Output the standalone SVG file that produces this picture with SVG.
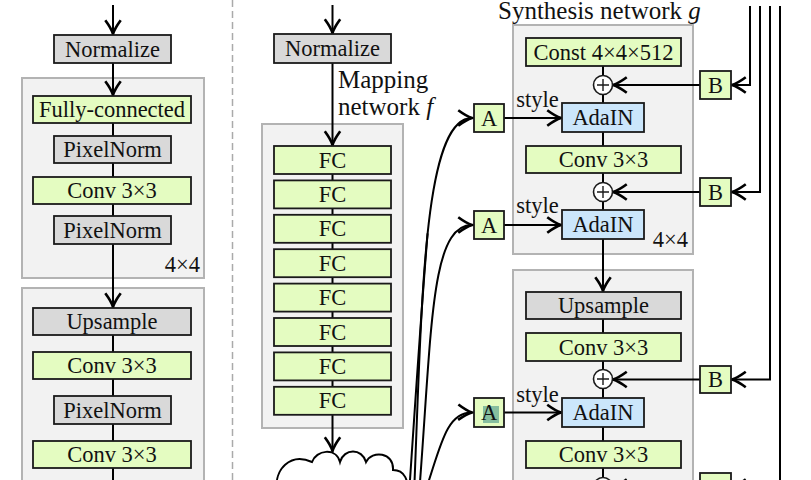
<svg xmlns="http://www.w3.org/2000/svg" width="811" height="480" viewBox="0 0 811 480">
<style>
text{font-family:"Liberation Serif","Times New Roman",serif;fill:#111;}
.t{font-size:22.5px;text-anchor:middle;}
.lbl{font-size:25px;}
.g{fill:#e4fcc1;stroke:#1a1a1a;stroke-width:1.8;}
.gr{fill:#d9d9d9;stroke:#1a1a1a;stroke-width:1.8;}
.bl{fill:#cbe6fb;stroke:#1a1a1a;stroke-width:1.8;}
.box{fill:#f2f2f2;stroke:#b3b3b3;stroke-width:2;}
.ln{fill:none;stroke:#000;stroke-width:2;}
.ar{fill:none;stroke:#000;stroke-width:2;marker-end:url(#ah);}
.pc{fill:#fff;stroke:#1a1a1a;stroke-width:1.6;}
.pl{stroke:#1a1a1a;stroke-width:1.4;}
</style>
<defs>
<marker id="ah" markerUnits="userSpaceOnUse" markerWidth="22" markerHeight="22" viewBox="-15 -10 17 20" refX="0" refY="0" orient="auto">
<path d="M-12.5,-7 Q-5,-1.5 0,0 Q-5,1.5 -12.5,7" fill="none" stroke="#000" stroke-width="2.4"/>
</marker>
</defs>

<!-- dashed separator -->
<line x1="232.5" y1="0" x2="232.5" y2="480" stroke="#aaaaaa" stroke-width="1.5" stroke-dasharray="7,4"/>

<!-- containers -->
<g id="container-left-4x4"><rect class="box" x="22" y="78" width="182" height="200"/><text class="t" x="200" y="272" style="text-anchor:end">4×4</text></g>
<g id="container-left-8x8"><rect class="box" x="22" y="288" width="182" height="210"/></g>
<g id="container-mapping"><rect class="box" x="262" y="124" width="141" height="304"/></g>
<g id="container-synth-4x4"><rect class="box" x="513" y="25" width="180" height="229"/><text class="t" x="688" y="247" style="text-anchor:end">4×4</text></g>
<g id="container-synth-8x8"><rect class="box" x="513" y="270" width="180" height="230"/></g>

<!-- connectors -->
<g id="connectors">
<path class="ar" d="M113,5 V34"/>
<path class="ar" d="M113,63 V95"/>
<path class="ln" d="M113,123 V136 M113,163 V177 M113,204 V216"/>
<path class="ar" d="M113,244 V307"/>
<path class="ln" d="M113,335 V352 M113,379 V396 M113,424 V441 M113,468 V480"/>

<path class="ar" d="M332.5,5 V33"/>
<path class="ar" d="M332.5,63 V145"/>
<path class="ln" d="M332.5,174 V180.4 M332.5,208.4 V214.8 M332.5,242.8 V249.2 M332.5,277.2 V283.6 M332.5,311.6 V318 M332.5,346 V352.4 M332.5,380.4 V386.8"/>
<path class="ar" d="M332.5,414.8 V451"/>

<path class="ar" d="M414,495 C422,300 423,118 472,118"/>
<path class="ln" d="M409,495 C416,390 422,300 427.6,233.4"/>
<path class="ar" d="M419,495 C432,330 430,225 472,225"/>
<path class="ar" d="M424,495 C440,450 445,412 472,412.5"/>

<path class="ar" d="M504,118 H561"/>
<path class="ar" d="M504,225 H561"/>
<path class="ar" d="M504,412.5 H561"/>

<path class="ar" d="M700,85 H613"/>
<path class="ar" d="M700,192 H613"/>
<path class="ar" d="M700,379.5 H613"/>
<path class="ar" d="M700,487 H613"/>

<path class="ar" d="M750,6 V85 H732"/>
<path class="ar" d="M760,6 V192 H732"/>
<path class="ar" d="M770,6 V379.5 H732"/>
<path class="ar" d="M780,6 V487 H732"/>

<path class="ln" d="M603,66 V76 M603,94 V103 M603,132 V146 M603,173 V183 M603,201 V210"/>
<path class="ar" d="M603,239 V291"/>
<path class="ln" d="M603,319 V333 M603,361 V370 M603,388 V398 M603,427 V441 M603,468 V478"/>
</g>

<!-- left column -->
<g id="normalize-left"><rect class="gr" x="54" y="35" width="117" height="28"/><text class="t" x="112.5" y="56.5">Normalize</text></g>
<g id="fully-connected"><rect class="g" x="33" y="96" width="158" height="27"/><text class="t" x="112" y="117">Fully-connected</text></g>
<g id="pixelnorm-1"><rect class="gr" x="54" y="136" width="117" height="27"/><text class="t" x="112.5" y="157">PixelNorm</text></g>
<g id="conv-left-1"><rect class="g" x="33" y="177" width="158" height="27"/><text class="t" x="112" y="198">Conv 3×3</text></g>
<g id="pixelnorm-2"><rect class="gr" x="54" y="216" width="117" height="28"/><text class="t" x="112.5" y="237.5">PixelNorm</text></g>
<g id="upsample-left"><rect class="gr" x="33" y="308" width="158" height="27"/><text class="t" x="112" y="329">Upsample</text></g>
<g id="conv-left-2"><rect class="g" x="33" y="352" width="158" height="27"/><text class="t" x="112" y="373">Conv 3×3</text></g>
<g id="pixelnorm-3"><rect class="gr" x="54" y="396" width="117" height="28"/><text class="t" x="112.5" y="417.5">PixelNorm</text></g>
<g id="conv-left-3"><rect class="g" x="33" y="441" width="158" height="27"/><text class="t" x="112" y="462">Conv 3×3</text></g>

<!-- mapping network -->
<g id="normalize-mid"><rect class="gr" x="274" y="34" width="117" height="29"/><text class="t" x="332.5" y="56">Normalize</text></g>
<g id="mapping-label"><text class="lbl" x="338" y="88">Mapping</text><text class="lbl" x="338" y="115">network <tspan font-style="italic">f</tspan></text></g>
<g id="fc1"><rect class="g" x="274" y="146" width="117" height="28"/><text class="t" x="332.5" y="167.5">FC</text></g>
<g id="fc2"><rect class="g" x="274" y="180.4" width="117" height="28"/><text class="t" x="332.5" y="201.9">FC</text></g>
<g id="fc3"><rect class="g" x="274" y="214.8" width="117" height="28"/><text class="t" x="332.5" y="236.3">FC</text></g>
<g id="fc4"><rect class="g" x="274" y="249.2" width="117" height="28"/><text class="t" x="332.5" y="270.7">FC</text></g>
<g id="fc5"><rect class="g" x="274" y="283.6" width="117" height="28"/><text class="t" x="332.5" y="305.1">FC</text></g>
<g id="fc6"><rect class="g" x="274" y="318" width="117" height="28"/><text class="t" x="332.5" y="339.5">FC</text></g>
<g id="fc7"><rect class="g" x="274" y="352.4" width="117" height="28"/><text class="t" x="332.5" y="373.9">FC</text></g>
<g id="fc8"><rect class="g" x="274" y="386.8" width="117" height="28"/><text class="t" x="332.5" y="408.3">FC</text></g>
<g id="latent-cloud"><path d="M277,490 C274,470 290,452 312,462 C316,450 336,447 340,462 C344,448 362,448 366,462 C372,450 394,452 393,470 C404,470 410,480 406,495" fill="#fff" stroke="#000" stroke-width="2"/></g>

<!-- synthesis network -->
<g id="synthesis-label"><text class="lbl" x="498" y="19">Synthesis network <tspan font-style="italic">g</tspan></text></g>
<g id="const"><rect class="g" x="526" y="38" width="155" height="28"/><text class="t" x="603.5" y="59.5">Const 4×4×512</text></g>
<g id="plus1"><circle class="pc" cx="603" cy="85" r="9.5"/><path class="pl" d="M597,85 H609 M603,79 V91"/></g>
<g id="adain1"><rect class="bl" x="562" y="103" width="82" height="29"/><text class="t" x="603" y="125">AdaIN</text></g>
<g id="conv-syn-1"><rect class="g" x="526" y="146" width="155" height="27"/><text class="t" x="603.5" y="167">Conv 3×3</text></g>
<g id="plus2"><circle class="pc" cx="603" cy="192" r="9.5"/><path class="pl" d="M597,192 H609 M603,186 V198"/></g>
<g id="adain2"><rect class="bl" x="562" y="210" width="82" height="29"/><text class="t" x="603" y="232">AdaIN</text></g>
<g id="upsample-syn"><rect class="gr" x="526" y="292" width="155" height="27"/><text class="t" x="603.5" y="313">Upsample</text></g>
<g id="conv-syn-2"><rect class="g" x="526" y="333" width="155" height="28"/><text class="t" x="603.5" y="354.5">Conv 3×3</text></g>
<g id="plus3"><circle class="pc" cx="603" cy="379" r="9.5"/><path class="pl" d="M597,379 H609 M603,373 V385"/></g>
<g id="adain3"><rect class="bl" x="562" y="398" width="82" height="29"/><text class="t" x="603" y="420">AdaIN</text></g>
<g id="conv-syn-3"><rect class="g" x="526" y="441" width="155" height="27"/><text class="t" x="603.5" y="462">Conv 3×3</text></g>
<g id="plus4"><circle class="pc" cx="603" cy="487" r="9.5"/></g>

<g id="a1"><rect class="g" x="474" y="104" width="30" height="28"/><text class="t" x="489" y="125.5">A</text></g>
<g id="a2"><rect class="g" x="474" y="211" width="30" height="28"/><text class="t" x="489" y="232.5">A</text></g>
<g id="a3"><rect class="g" x="474" y="398" width="30" height="29"/><rect x="483" y="406" width="16" height="17" fill="#86be9f"/><text class="t" x="489" y="420">A</text></g>
<g id="style-labels"><text class="t" x="537.5" y="107">style</text><text class="t" x="537.5" y="213">style</text><text class="t" x="537.5" y="402">style</text></g>

<g id="b1"><rect class="g" x="700" y="71" width="31" height="28"/><text class="t" x="715.5" y="92.5">B</text></g>
<g id="b2"><rect class="g" x="700" y="178" width="31" height="28"/><text class="t" x="715.5" y="199.5">B</text></g>
<g id="b3"><rect class="g" x="700" y="366" width="31" height="27"/><text class="t" x="715.5" y="387">B</text></g>
<g id="b4"><rect class="g" x="700" y="473" width="31" height="28"/></g>
</svg>
